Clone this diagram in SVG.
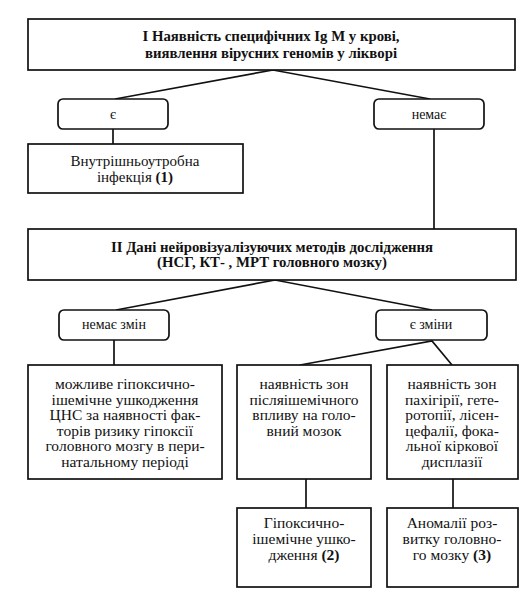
<svg xmlns="http://www.w3.org/2000/svg" width="527" height="603" viewBox="0 0 527 603" font-family="'Liberation Serif', 'Times New Roman', serif">
<style>
.box{fill:#fff;stroke:#111;stroke-width:1.7}
.pill{fill:#fff;stroke:#111;stroke-width:1.7}
.ln{fill:none;stroke:#111;stroke-width:1.7}
text{font-family:'Liberation Serif','Times New Roman',serif;fill:#111;text-anchor:middle}
.t{font-size:15.5px}
.i{font-size:15px}
.h{font-size:14.8px;font-weight:bold}
.p{font-size:14px}
.b{font-weight:bold}
</style>
<rect width="527" height="603" fill="#fff"/>
<g id="connectors">
<polyline class="ln" points="115,99 273,70 430,99"/>
<line class="ln" x1="113" y1="129" x2="113" y2="144"/>
<line class="ln" x1="434" y1="129" x2="434" y2="229"/>
<polyline class="ln" points="116,310 275,280 432,310"/>
<line class="ln" x1="114" y1="340" x2="114" y2="365"/>
<polyline class="ln" points="300,365 432,341 452,365"/>
<line class="ln" x1="306" y1="479" x2="306" y2="508"/>
<line class="ln" x1="453" y1="479" x2="453" y2="508"/>
</g>
<g id="n1">
<rect class="box" x="28" y="19" width="487" height="51"/>
<text class="h" x="271" y="41">I Наявність специфічних Ig M у крові,</text>
<text class="h" x="271" y="58">виявлення вірусних геномів у лікворі</text>
</g>
<g id="n_ye">
<rect class="pill" x="58" y="99" width="110" height="30" rx="5"/>
<text class="p" x="113" y="119">є</text>
</g>
<g id="n_nemae">
<rect class="pill" x="374" y="99" width="110" height="30" rx="5"/>
<text class="p" x="429" y="119">немає</text>
</g>
<g id="n_inf">
<rect class="box" x="28" y="144" width="215" height="49"/>
<text class="i" x="135" y="166">Внутрішньоутробна</text>
<text class="i" x="135" y="182">інфекція <tspan class="b">(1)</tspan></text>
</g>
<g id="n2">
<rect class="box" x="28" y="229" width="488" height="51"/>
<text class="h" x="272" y="252">II Дані нейровізуалізуючих методів дослідження</text>
<text class="h" x="272" y="267">(НСГ, КТ- , МРТ головного мозку)</text>
</g>
<g id="n_nochange">
<rect class="pill" x="59" y="310" width="110" height="30" rx="5"/>
<text class="p" x="114" y="329">немає змін</text>
</g>
<g id="n_change">
<rect class="pill" x="376" y="310" width="111" height="30" rx="5"/>
<text class="p" x="431" y="329">є зміни</text>
</g>
<g id="n_hyp">
<rect class="box" x="28" y="365" width="194" height="114"/>
<text class="t" x="125" y="389">можливе гіпоксично-</text>
<text class="t" x="125" y="404.5">ішемічне ушкодження</text>
<text class="t" x="125" y="420">ЦНС за наявності фак-</text>
<text class="t" x="125" y="435.5">торів ризику гіпоксії</text>
<text class="t" x="125" y="451">головного мозгу в пери-</text>
<text class="t" x="125" y="466.5">натальному періоді</text>
</g>
<g id="n_zones1">
<rect class="box" x="237" y="365" width="134" height="114"/>
<text class="t" x="304" y="389">наявність зон</text>
<text class="t" x="304" y="404.5">післяішемічного</text>
<text class="t" x="304" y="420">впливу на голо-</text>
<text class="t" x="304" y="435.5">вний мозок</text>
</g>
<g id="n_zones2">
<rect class="box" x="387" y="365" width="131" height="114"/>
<text class="t" x="452" y="389">наявність зон</text>
<text class="t" x="452" y="404.5">пахігірії, гете-</text>
<text class="t" x="452" y="420">ротопії, лісен-</text>
<text class="t" x="452" y="435.5">цефалії, фока-</text>
<text class="t" x="452" y="451">льної кіркової</text>
<text class="t" x="452" y="466.5">дисплазії</text>
</g>
<g id="n_res2">
<rect class="box" x="237" y="508" width="134" height="79"/>
<text class="t" x="304" y="528">Гіпоксично-</text>
<text class="t" x="304" y="544">ішемічне ушко-</text>
<text class="t" x="304" y="560">дження <tspan class="b">(2)</tspan></text>
</g>
<g id="n_res3">
<rect class="box" x="387" y="508" width="131" height="79"/>
<text class="t" x="452" y="528">Аномалії роз-</text>
<text class="t" x="452" y="544">витку  головно-</text>
<text class="t" x="452" y="560">го мозку <tspan class="b">(3)</tspan></text>
</g>
</svg>
